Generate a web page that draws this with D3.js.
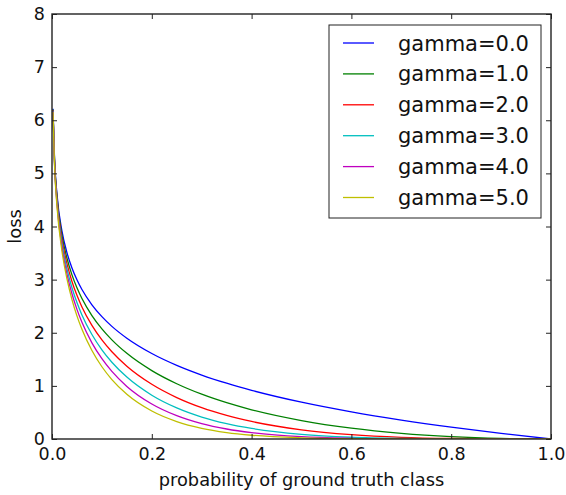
<!DOCTYPE html>
<html>
<head>
<meta charset="utf-8">
<script src="https://cdn.jsdelivr.net/npm/d3@7"></script>
<style>
  body { margin: 0; background: #fff; }
  text { font-family: "DejaVu Sans", sans-serif; fill: #111; }
  .axis path { display: none; }
  .axis line { stroke: #222; stroke-width: 1; }
</style>
</head>
<body>
<div id="chart"></div>
<script>
// probability of ground truth class (x)
var probs = [0.002, 0.005, 0.01, 0.02, 0.03, 0.04, 0.05, 0.06, 0.08, 0.1, 0.12, 0.15,
             0.2, 0.25, 0.3, 0.35, 0.4, 0.5, 0.6, 0.7, 0.8, 0.9, 1.0];

// loss, one list per gamma
var gamma0 = [6.215, 5.298, 4.605, 3.912, 3.507, 3.219, 2.996, 2.813, 2.526, 2.303, 2.120, 1.897,
              1.609, 1.386, 1.204, 1.050, 0.916, 0.693, 0.511, 0.357, 0.223, 0.105, 0];
var gamma1 = [6.203, 5.272, 4.559, 3.834, 3.402, 3.090, 2.846, 2.644, 2.324, 2.073, 1.866, 1.612,
              1.287, 1.040, 0.843, 0.683, 0.550, 0.347, 0.204, 0.107, 0.045, 0.011, 0];
var gamma2 = [6.190, 5.245, 4.513, 3.757, 3.300, 2.966, 2.704, 2.485, 2.138, 1.865, 1.642, 1.370,
              1.030, 0.780, 0.590, 0.444, 0.330, 0.173, 0.082, 0.032, 0.009, 0.001, 0];
var gamma3 = [6.178, 5.219, 4.468, 3.682, 3.201, 2.848, 2.569, 2.336, 1.967, 1.679, 1.445, 1.165,
              0.824, 0.585, 0.413, 0.289, 0.198, 0.087, 0.033, 0.010, 0.002, 0.000, 0];
var gamma4 = [6.166, 5.193, 4.423, 3.608, 3.105, 2.734, 2.440, 2.196, 1.810, 1.511, 1.272, 0.990,
              0.659, 0.439, 0.289, 0.188, 0.119, 0.043, 0.013, 0.003, 0.000, 0, 0];
var gamma5 = [6.154, 5.167, 4.379, 3.536, 3.012, 2.625, 2.318, 2.064, 1.665, 1.360, 1.119, 0.842,
              0.527, 0.329, 0.202, 0.122, 0.071, 0.022, 0.005, 0.001, 0, 0, 0];

var seriesNames = ["gamma=0.0", "gamma=1.0", "gamma=2.0", "gamma=3.0", "gamma=4.0", "gamma=5.0"];
var seriesColors = ["#0000ff", "#008000", "#ff0000", "#00bfbf", "#bf00bf", "#bfbf00"];
var xTicks = [0, 0.2, 0.4, 0.6, 0.8, 1.0];
var yTicks = [0, 1, 2, 3, 4, 5, 6, 7, 8];

var series = [gamma0, gamma1, gamma2, gamma3, gamma4, gamma5].map(function(vals, i) {
    return { name: seriesNames[i], color: seriesColors[i],
             points: vals.map(function(v, j) { return [probs[j], v]; }) };
});

var margin = { top: 14, right: 15, bottom: 55, left: 52 };
var W = 566, H = 495;
var width = W - margin.left - margin.right;
var height = H - margin.top - margin.bottom - 1;

var svg = d3.select("#chart").append("svg")
    .attr("width", W).attr("height", H)
  .append("g")
    .attr("transform", "translate(" + margin.left + "," + margin.top + ")");

var x = d3.scaleLinear().domain([0, 1]).range([0, width]);
var y = d3.scaleLinear().domain([0, 8]).range([height, 0]);

svg.append("defs").append("clipPath").attr("id", "clip")
  .append("rect").attr("width", width).attr("height", height);

var line = d3.line()
    .x(function(d) { return x(d[0]); })
    .y(function(d) { return y(d[1]); })
    .curve(d3.curveMonotoneX);

svg.append("g").attr("clip-path", "url(#clip)")
  .selectAll("path.curve")
    .data(series)
  .enter().append("path")
    .attr("class", "curve")
    .attr("d", function(d) { return line(d.points); })
    .style("fill", "none")
    .style("stroke", function(d) { return d.color; })
    .style("stroke-width", 1.3);

// axes, ticks pointing inward like matplotlib classic
svg.append("g").attr("class", "axis")
    .attr("transform", "translate(0," + height + ")")
    .call(d3.axisBottom(x).tickValues(xTicks).tickFormat(d3.format(".1f")).tickSize(-5).tickPadding(9))
    .selectAll("text").style("font-size", "17.5px");
svg.append("g").attr("class", "axis")
    .call(d3.axisTop(x).tickValues(xTicks).tickFormat("").tickSize(-5));
svg.append("g").attr("class", "axis")
    .call(d3.axisLeft(y).tickValues(yTicks).tickFormat(d3.format("d")).tickSize(-5).tickPadding(7))
    .selectAll("text").style("font-size", "17.5px");
svg.append("g").attr("class", "axis")
    .attr("transform", "translate(" + width + ",0)")
    .call(d3.axisRight(y).tickValues(yTicks).tickFormat("").tickSize(-5));

svg.append("rect")
    .attr("width", width).attr("height", height)
    .style("fill", "none").style("stroke", "#222").style("stroke-width", 1.4);

svg.append("text")
    .attr("x", width / 2).attr("y", height + 47)
    .style("text-anchor", "middle").style("font-size", "17.8px")
    .text("probability of ground truth class");
svg.append("text")
    .attr("transform", "translate(" + (-31) + "," + (height / 2) + ") rotate(-90)")
    .style("text-anchor", "middle").style("font-size", "17.8px")
    .text("loss");

// legend
var legend = svg.append("g").attr("transform", "translate(277,11)");
legend.append("rect")
    .attr("width", 212).attr("height", 193)
    .style("fill", "#fff").style("stroke", "#222").style("stroke-width", 1);
var items = legend.selectAll("g.item")
    .data(series)
  .enter().append("g")
    .attr("class", "item")
    .attr("transform", function(d, i) { return "translate(0," + (18 + i * 30.9) + ")"; });
items.append("line")
    .attr("x1", 14).attr("x2", 45)
    .style("stroke", function(d) { return d.color; })
    .style("stroke-width", 1.3);
items.append("text")
    .attr("x", 69).attr("dy", "0.36em")
    .style("font-size", "21px")
    .text(function(d) { return d.name; });
</script>
</body>
</html>
